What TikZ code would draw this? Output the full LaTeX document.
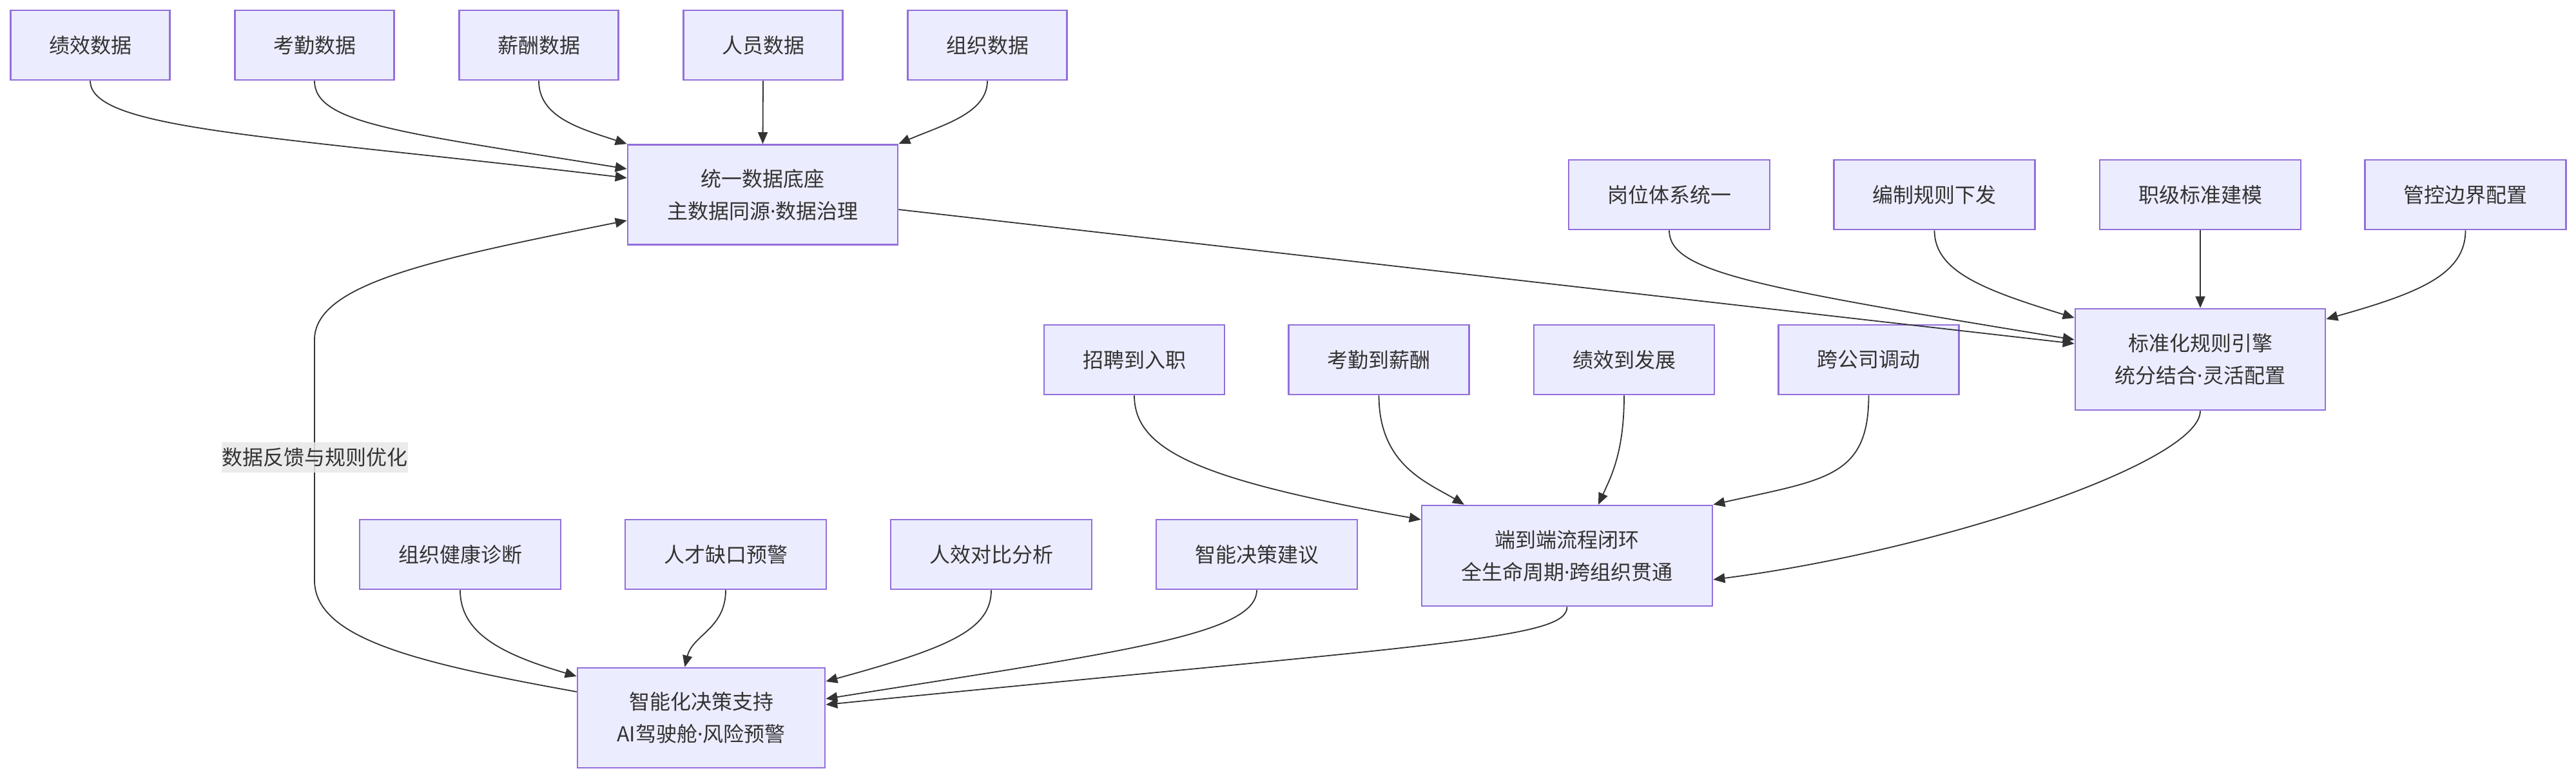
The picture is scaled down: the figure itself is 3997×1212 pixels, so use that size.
\documentclass[tikz,border=0pt]{standalone}
\usepackage{fontspec}
\setmainfont{Noto Sans CJK SC}
\newfontfamily\dotfont{Noto Sans}
\newcommand\mdot{{\dotfont ·}}
\usetikzlibrary{arrows.meta,calc}
\definecolor{nodefill}{HTML}{ECECFF}
\definecolor{nodeline}{HTML}{9370DB}
\definecolor{ink}{HTML}{333333}
\definecolor{lblbg}{HTML}{E8E8E8}
\begin{document}
\begin{tikzpicture}[x=0.5pt,y=-0.5pt,
  box/.style={draw=nodeline, fill=nodefill, line width=1.3pt, text=ink,
    font=\fontsize{16pt}{25pt}\selectfont, align=center, inner sep=0pt},
  leaf/.style={box, minimum height=54pt},
  conn/.style={draw=ink, line width=0.9pt, -{Triangle[length=9pt,width=7.5pt]}},
  lbl/.style={fill=lblbg, fill opacity=0.85, text opacity=1, text=ink,
    font=\fontsize{16pt}{20pt}\selectfont, inner sep=0pt,
    minimum width=144.5pt, minimum height=23.5pt}]
\useasboundingbox (0,0) rectangle (3997,1212);

% top data sources
\node[leaf, minimum width=123.5pt] (d1) at (140,70) {绩效数据};
\node[leaf, minimum width=123.5pt] (d2) at (488,70) {考勤数据};
\node[leaf, minimum width=123.5pt] (d3) at (836,70) {薪酬数据};
\node[leaf, minimum width=123.5pt] (d4) at (1184,70) {人员数据};
\node[leaf, minimum width=123.5pt] (d5) at (1532,70) {组织数据};
\node[box, minimum width=209.5pt, minimum height=77.5pt] (U) at (1183.5,302) {统一数据底座\\主数据同源\mdot 数据治理};

% rule inputs
\node[leaf, minimum width=156pt] (r1) at (2590,302) {岗位体系统一};
\node[leaf, minimum width=156pt] (r2) at (3001.5,302) {编制规则下发};
\node[leaf, minimum width=156pt] (r3) at (3414,302) {职级标准建模};
\node[leaf, minimum width=156pt] (r4) at (3825.5,302) {管控边界配置};
\node[box, minimum width=194pt, minimum height=78.5pt] (R) at (3414,557.5) {标准化规则引擎\\统分结合\mdot 灵活配置};

% processes
\node[leaf, minimum width=140pt] (p1) at (1760,558) {招聘到入职};
\node[leaf, minimum width=140pt] (p2) at (2139.5,558) {考勤到薪酬};
\node[leaf, minimum width=140pt] (p3) at (2520,558) {绩效到发展};
\node[leaf, minimum width=140pt] (p4) at (2899.5,558) {跨公司调动};
\node[box, minimum width=225.5pt, minimum height=78pt] (E) at (2431.5,862) {端到端流程闭环\\全生命周期\mdot 跨组织贯通};

% analytics
\node[leaf, minimum width=156pt] (a1) at (714,860) {组织健康诊断};
\node[leaf, minimum width=156pt] (a2) at (1126,860) {人才缺口预警};
\node[leaf, minimum width=156pt] (a3) at (1538,860) {人效对比分析};
\node[leaf, minimum width=156pt] (a4) at (1950,860) {智能决策建议};
\node[box, minimum width=192pt, minimum height=77.5pt] (S) at (1088,1113.5) {智能化决策支持\\AI驾驶舱\mdot 风险预警};

% edges into U
\draw[conn] (d1.south) .. controls +(0,76) and +(-554,-66) .. ([yshift=13pt]U.west);
\draw[conn] (d2.south) .. controls +(0,66) and +(-354,-57) .. ([yshift=20pt]U.west);
\draw[conn] (d3.south) .. controls +(0,56) and +(-74,-24) .. (U.north west);
\draw[conn] (d4.south) -- (U.north);
\draw[conn] (d5.south) .. controls +(0,51) and +(67,-29) .. (U.north east);

% edges into R
\draw[conn] ([yshift=-11.5pt]U.east) -- ([yshift=12.25pt]R.west);
\draw[conn] (r1.south) .. controls +(0,64) and +(-500,-82) .. ([yshift=15.25pt]R.west);
\draw[conn] (r2.south) .. controls +(0,64) and +(-140,-43) .. ([yshift=32.25pt]R.west);
\draw[conn] (r3.south) -- (R.north);
\draw[conn] (r4.south) .. controls +(0,69) and +(142,-40) .. ([yshift=31.25pt]R.east);

% edges into E
\draw[conn] (p1.south) .. controls +(0,88) and +(-336,-61) .. ([yshift=28pt]E.west);
\draw[conn] (p2.south) .. controls +(0,108) and +(-57,-34) .. ([xshift=-79.75pt]E.north);
\draw[conn] (p3.south) .. controls +(0,88) and +(20,-44) .. ([xshift=24.25pt]E.north);
\draw[conn] (p4.south) .. controls +(0,128) and +(173,-39) .. (E.north east);
\draw[conn] (R.south) .. controls +(0,80) and +(350,-45) .. ([yshift=-18.5pt]E.east);

% edges into S
\draw[conn] (a1.south) .. controls +(0,67) and +(-116,-34) .. ([yshift=32.25pt]S.west);
\draw[conn] (a2.south) .. controls +(0,60) and +(12,-50) .. ([xshift=-12.75pt]S.north);
\draw[conn] (a3.south) .. controls +(0,62) and +(190,-52) .. ([yshift=28.25pt]S.east);
\draw[conn] (a4.south) .. controls +(0,70) and +(450,-72) .. ([yshift=14.75pt]S.east);
\draw[conn] (E.south) .. controls +(0,50) and +(958,-95) .. ([yshift=10.25pt]S.east);

% feedback loop
\coordinate (fbA) at (488,900);
\coordinate (fbB) at (488,527);
\draw[conn] ([yshift=20.25pt]S.west) .. controls +(-250,-45) and +(0,90) .. (fbA) -- (fbB)
  .. controls +(0,-87) and +(-300,60) .. ([yshift=-20pt]U.west);
\node[lbl] (fl) at (488,709) {数据反馈与规则优化};
\end{tikzpicture}
\end{document}
